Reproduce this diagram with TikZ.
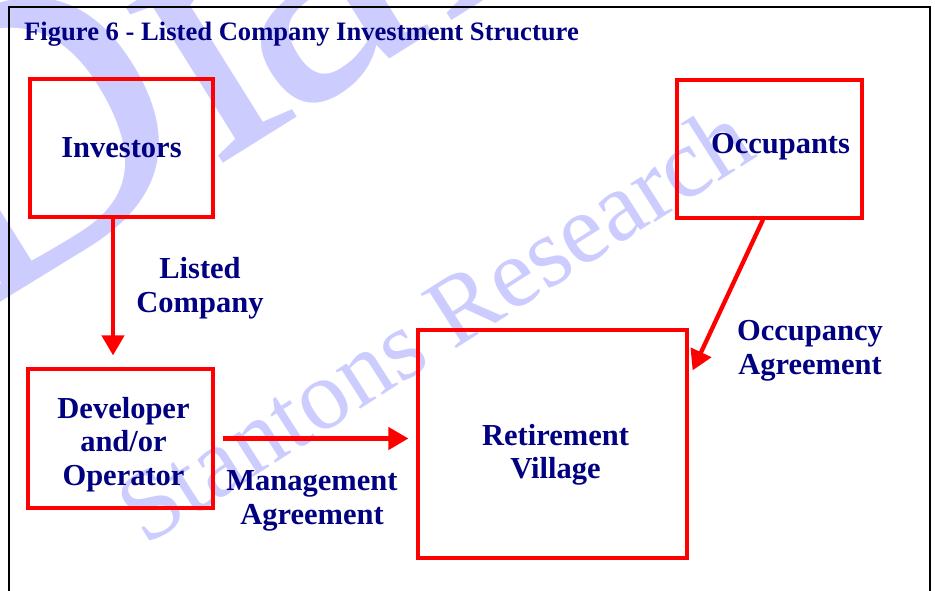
\documentclass[tikz,border=0pt]{standalone}
\usepackage{fontspec}
\setmainfont{Liberation Serif}
\usetikzlibrary{arrows.meta, positioning}
\definecolor{navytext}{RGB}{0,0,128}
\definecolor{wmblue}{RGB}{204,204,255}

\begin{document}
\begin{tikzpicture}[x=1pt, y=-1pt,
        box/.style={draw=red, line width=3.2pt, inner sep=0pt},
        lbl/.style={text=navytext, align=center, font=\bfseries\fontsize{30.5}{33.5}\selectfont},
        flow/.style={draw=red, line width=4.3pt, -{Triangle[length=20pt, width=22pt]}},
        wmark/.style={text=wmblue, anchor=base west, inner sep=0pt}]
    \useasboundingbox (0,0) rectangle (935,591);
    \clip (0,0) rectangle (935,591);

    % watermark
    \node[wmark, font=\fontsize{400}{400}\selectfont, rotate=32] (wmdraft) at (-29,321) {Dr\kern-50pt aft};
    \node[wmark, font=\fontsize{99}{99}\selectfont, rotate=32.5] (wmstantons) at (145,547) {Stantons Research};

    % frame and title
    \draw[line width=2pt] (9,600) |- (930,7) -- (930,600);
    \node[anchor=base west, inner sep=0pt, text=navytext, font=\bfseries\fontsize{26.6}{30}\selectfont] (title) at (24,41) {Figure 6 - Listed Company Investment Structure};

    % boxes
    \node[box, minimum width=183pt, minimum height=138pt, label={[lbl]center:Investors}] (inv) at (121.5,148) {};
    \node[box, minimum width=185pt, minimum height=139pt, label={[lbl, xshift=3pt, yshift=-6pt]center:Developer\\and/or\\Operator}] (dev) at (120.5,438.5) {};
    \node[box, minimum width=269pt, minimum height=228pt, label={[lbl, xshift=3pt, yshift=-11pt]center:Retirement\\Village}] (rv) at (552.5,444) {};
    \node[box, minimum width=185pt, minimum height=138pt, label={[lbl, xshift=11pt, yshift=2pt]center:Occupants}] (occ) at (769.5,149) {};

    % Draw edges
    \draw[flow] ([xshift=-8.5pt]inv.south) -- ([xshift=-7.5pt, yshift=12pt]dev.north);
    \draw[flow, shorten <=8pt, shorten >=8pt] (dev.east) -- (dev.east -| rv.west);
    \draw[flow] ([xshift=-6.5pt]occ.south) -- ([xshift=4pt, yshift=-42pt]rv.north east);

    \node[lbl] (listed) at (200,288) {Listed\\Company};
    \node[lbl] (mgmt) at (312,501) {Management\\Agreement};
    \node[lbl] (occag) at (810,351) {Occupancy\\Agreement};
\end{tikzpicture}
\end{document}
